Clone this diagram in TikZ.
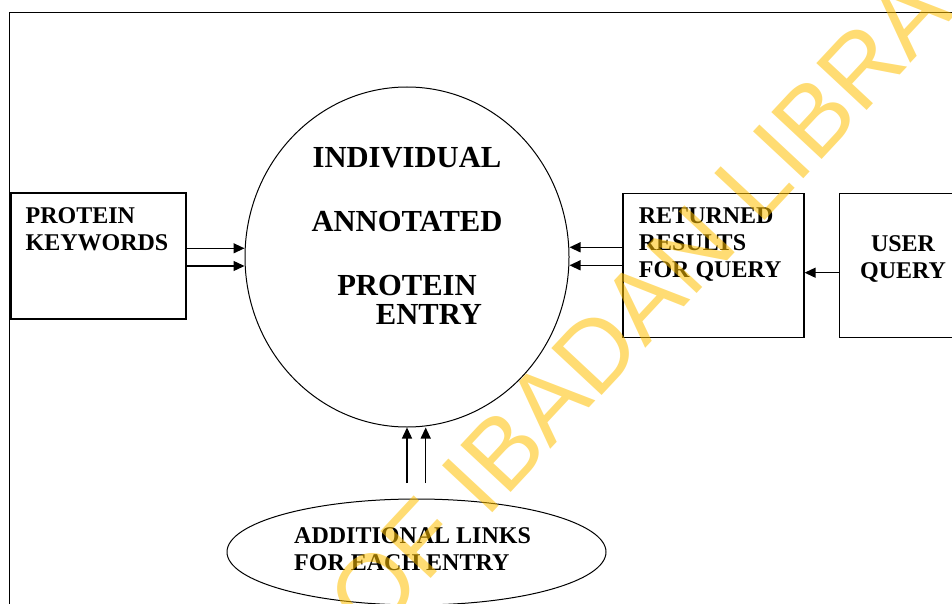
\documentclass[tikz,border=0pt]{standalone}
\usepackage{fontspec}
\setmainfont{Liberation Serif}
\newfontfamily\wmfont{Liberation Sans}
\usetikzlibrary{shapes.geometric,arrows.meta,calc}
\definecolor{wmyellow}{RGB}{255,192,0}

\begin{document}
\begin{tikzpicture}[x=1pt,y=-1pt,>={Triangle[length=11pt,width=10pt]},
   box/.style={draw,line width=1.2pt,inner sep=0pt},
   oval/.style={draw,ellipse,line width=1pt,inner sep=0pt},
   boxtext/.style={font=\fontsize{24}{27}\selectfont\bfseries,inner sep=0pt},
   flow/.style={->,line width=1.3pt}]
  \useasboundingbox (0,0) rectangle (952,604);
  % page frame
  \draw[line width=1.3pt] (9.5,604) -- (9.5,12.7) -- (952,12.7);

  \node[oval,minimum width=324pt,minimum height=340pt] (entry) at (407,257) {};
  \node[font=\fontsize{30.6}{29}\selectfont\bfseries,align=center,inner sep=0pt,anchor=north]
    (entrytxt) at ($(entry.north)+(0,60.9)$)
    {INDIVIDUAL\\[34.8pt]ANNOTATED\\[34.8pt]PROTEIN\\\hspace*{44pt}ENTRY};

  \node[box,minimum width=175pt,minimum height=126pt] (kw) at (98.5,256) {};
  \node[boxtext,align=left,anchor=north west] (kwtxt) at ($(kw.north west)+(15,15.4)$)
    {PROTEIN\\KEYWORDS};

  \node[box,minimum width=181pt,minimum height=144pt] (rb) at (713.5,265.3) {};
  \node[boxtext,align=left,anchor=north west] (rbtxt) at ($(rb.north west)+(16.3,14.8)$)
    {RETURNED\\RESULTS\\FOR QUERY};

  \node[box,minimum width=128pt,minimum height=144pt] (uq) at (903.3,265.3) {};
  \node[boxtext,align=center,anchor=north] (uqtxt) at (903,235.1) {USER\\QUERY};

  \node[oval,minimum width=379pt,minimum height=106pt] (links) at (416.5,552) {};
  \node[boxtext,align=left,anchor=north west] (linkstxt) at ($(links.center)+(-122.5,-24.6)$)
    {ADDITIONAL LINKS\\FOR EACH ENTRY};

  % connectors
  \coordinate (kwa) at ($(kw.east)+(0,-7.7)$);
  \coordinate (kwb) at ($(kw.east)+(0,10)$);
  \draw[flow] (kwa) -- (kwa -| entry.west);
  \draw[flow] (kwb) -- (kwb -| entry.west);
  \coordinate (rba) at ($(rb.west)+(0,-18)$);
  \draw[flow] (rba) -- (rba -| entry.east);
  \draw[flow] (rb.west) -- (rb.west -| entry.east);
  \coordinate (uqa) at ($(uq.west)+(0,7.4)$);
  \draw[flow] (uqa) -- (uqa -| rb.east);
  \coordinate (lka) at ($(links.north)+(-9.5,-15.5)$);
  \coordinate (lkb) at ($(links.north)+(9.2,-15.5)$);
  \draw[flow] (lka) -- (lka |- entry.south);
  \draw[flow] (lkb) -- (lkb |- entry.south);

  % watermark
  \node[rotate=47,font=\wmfont\fontsize{100}{100}\selectfont,text=wmyellow,
    text opacity=0.55,inner sep=0pt] (wm) at (472,484) {UNIVERSITY OF IBADAN LIBRARY};
\end{tikzpicture}
\end{document}
